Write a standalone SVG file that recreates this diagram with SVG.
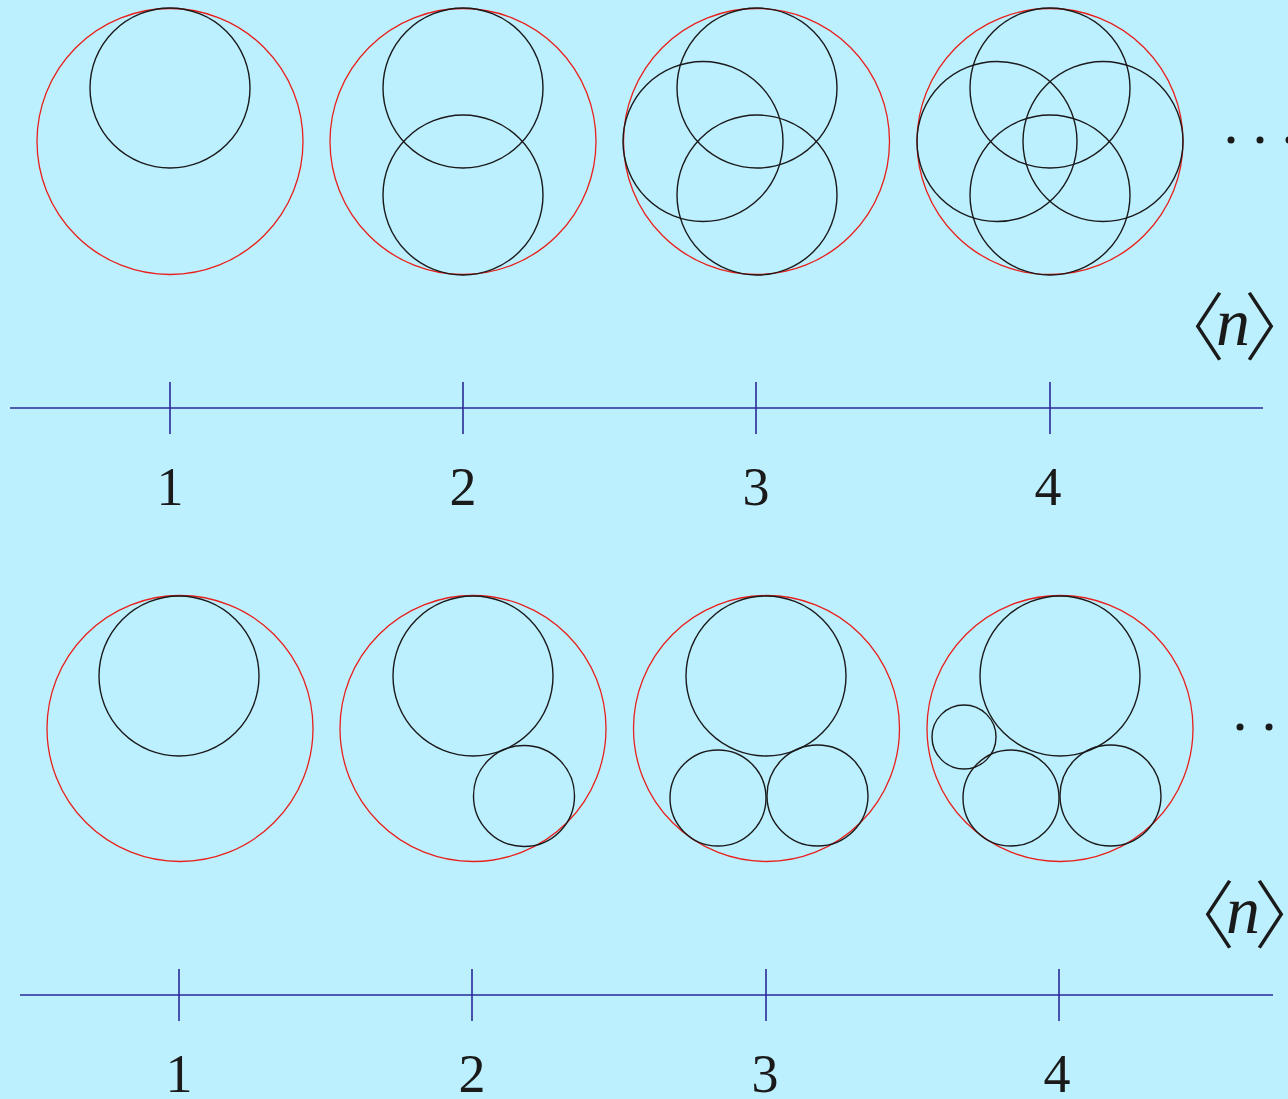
<svg xmlns="http://www.w3.org/2000/svg" width="1288" height="1099" viewBox="0 0 1288 1099">
<style>
.bg{fill:#bdf0ff}
.r{fill:none;stroke:#e8201c;stroke-width:1.3}
.k{fill:none;stroke:#1a1a1a;stroke-width:1.4}
.ax{stroke:#2a2a9a;stroke-width:1.6;fill:none}
.num{font-family:"Liberation Serif","DejaVu Serif",serif;font-size:54px;fill:#1a1a1a;text-anchor:middle}
.n{font-family:"Liberation Serif","DejaVu Serif",serif;font-size:68px;font-style:italic;fill:#1a1a1a}
.br{font-family:"Noto Sans CJK SC",sans-serif;font-size:74px;font-weight:300;fill:#1a1a1a}
.dot{fill:#1a1a1a}
</style>
<rect class="bg" x="0" y="0" width="1288" height="1099"/>
<g id="top-1"><circle class="r" cx="170" cy="141.5" r="133"/><circle class="k" cx="170" cy="88" r="80"/></g>
<g id="top-2"><circle class="r" cx="463" cy="141.5" r="133"/><circle class="k" cx="463" cy="88" r="80"/><circle class="k" cx="463" cy="195" r="80"/></g>
<g id="top-3"><circle class="r" cx="756.5" cy="141.5" r="133"/><circle class="k" cx="757" cy="88" r="80"/><circle class="k" cx="703" cy="141.5" r="80"/><circle class="k" cx="757" cy="195" r="80"/></g>
<g id="top-4"><circle class="r" cx="1050" cy="141.5" r="133"/><circle class="k" cx="1050" cy="88" r="80"/><circle class="k" cx="997" cy="141.5" r="80"/><circle class="k" cx="1103" cy="141.5" r="80"/><circle class="k" cx="1050" cy="195" r="80"/></g>
<g id="top-dots"><circle class="dot" cx="1231" cy="140" r="3.5"/><circle class="dot" cx="1260" cy="140" r="3.5"/><circle class="dot" cx="1289" cy="140" r="3.5"/></g>
<g id="top-label">
<text class="br" x="1151" y="354">〈</text>
<text class="n" x="1216" y="345">n</text>
<text class="br" x="1244" y="354">〉</text>
</g>
<g id="top-axis">
<line class="ax" x1="10" y1="408" x2="1263" y2="408"/>
<line class="ax" x1="170" y1="382" x2="170" y2="434"/>
<line class="ax" x1="463" y1="382" x2="463" y2="434"/>
<line class="ax" x1="756" y1="382" x2="756" y2="434"/>
<line class="ax" x1="1050" y1="382" x2="1050" y2="434"/>
<text class="num" x="170" y="505">1</text>
<text class="num" x="463" y="505">2</text>
<text class="num" x="756" y="505">3</text>
<text class="num" x="1048" y="505">4</text>
</g>
<g id="bot-1"><circle class="r" cx="180" cy="728.5" r="133"/><circle class="k" cx="179" cy="676" r="80"/></g>
<g id="bot-2"><circle class="r" cx="473" cy="728.5" r="133"/><circle class="k" cx="473" cy="676" r="80"/><circle class="k" cx="524" cy="796" r="50.5"/></g>
<g id="bot-3"><circle class="r" cx="766.5" cy="728.5" r="133"/><circle class="k" cx="766" cy="676" r="80"/><circle class="k" cx="718" cy="798" r="48"/><circle class="k" cx="817.5" cy="795.5" r="50.5"/></g>
<g id="bot-4"><circle class="r" cx="1060" cy="728.5" r="133"/><circle class="k" cx="1060" cy="676" r="80"/><circle class="k" cx="964" cy="737" r="32"/><circle class="k" cx="1011" cy="798" r="48"/><circle class="k" cx="1110.5" cy="795.5" r="50.5"/></g>
<g id="bot-dots"><circle class="dot" cx="1240" cy="727" r="3.5"/><circle class="dot" cx="1269" cy="727" r="3.5"/></g>
<g id="bot-label">
<text class="br" x="1161" y="942">〈</text>
<text class="n" x="1226" y="933">n</text>
<text class="br" x="1254" y="942">〉</text>
</g>
<g id="bot-axis">
<line class="ax" x1="20" y1="995" x2="1273" y2="995"/>
<line class="ax" x1="179" y1="969" x2="179" y2="1021"/>
<line class="ax" x1="472" y1="969" x2="472" y2="1021"/>
<line class="ax" x1="766" y1="969" x2="766" y2="1021"/>
<line class="ax" x1="1059" y1="969" x2="1059" y2="1021"/>
<text class="num" x="179" y="1092">1</text>
<text class="num" x="472" y="1092">2</text>
<text class="num" x="765" y="1092">3</text>
<text class="num" x="1057" y="1092">4</text>
</g>
</svg>
